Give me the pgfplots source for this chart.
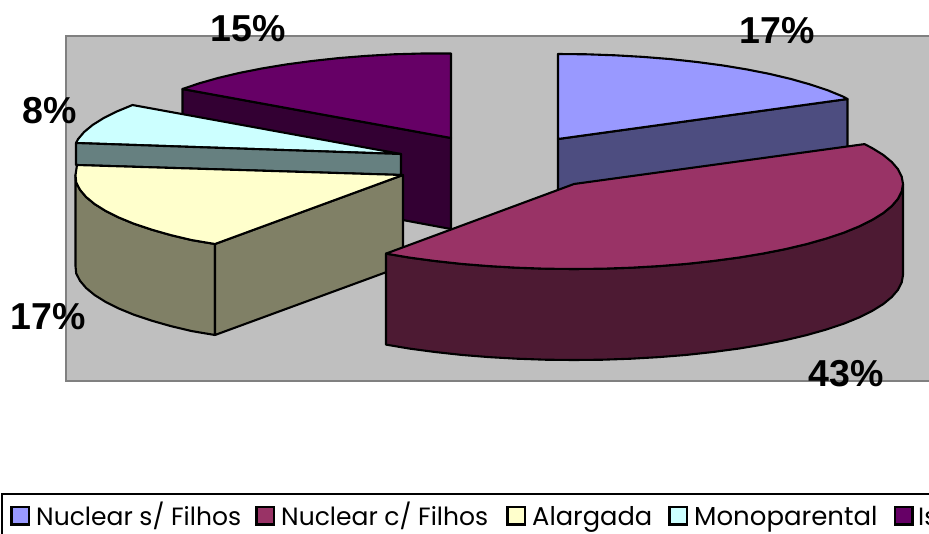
\documentclass[border=0pt]{standalone}
\usepackage{pgfplots}
\pgfplotsset{compat=1.18}
\usepackage{fontspec}
\setmainfont{Poppins}
\newfontfamily\labfont{Liberation Sans}
\definecolor{aT}{HTML}{9999FF}\definecolor{aS}{HTML}{4D4D80}
\definecolor{bT}{HTML}{993366}\definecolor{bS}{HTML}{4D1A33}
\definecolor{cT}{HTML}{FFFFCC}\definecolor{cS}{HTML}{808066}
\definecolor{dT}{HTML}{CCFFFF}\definecolor{dS}{HTML}{668080}
\definecolor{eT}{HTML}{660066}\definecolor{eS}{HTML}{330033}
\pgfplotsset{slice/.style={draw=black,line width=2.1pt,line join=round,fill=#1},
  swatch/.style={draw=black,line width=2.8pt,line join=miter,fill=#1}}
\begin{document}
\begin{tikzpicture}
\useasboundingbox (0,0) rectangle (929pt,533pt);
\clip (0,0) rectangle (929pt,533pt);
\begin{axis}[at={(0,0)},anchor=south west,scale only axis,width=929pt,height=533pt,
  xmin=0,xmax=929,ymin=0,ymax=533,y dir=reverse,hide axis]
% plot area
\addplot[fill=black!25,draw=black!50,line width=2.5pt] coordinates {(66,36)(940,36)(940,381)(66,381)} -- cycle;
% Isolada
\addplot[slice=eS] coordinates {(182.5,89)(451,138)(451,229)(182.5,179)} -- cycle;
\addplot[slice=eT] coordinates {(451,138)(451,53.5)(422.3,53.5)(393.9,54.3)(365.9,55.9)(338.5,58.1)(312,61)(286.5,64.4)(262.3,68.4)(239.5,72.9)(218.4,77.9)(199,83.4)(182.5,89)} -- cycle;
% Nuclear s/ Filhos
\addplot[slice=aS] coordinates {(558,139)(847.5,99)(847.5,190)(558,230)} -- cycle;
\addplot[slice=aT] coordinates {(558,139)(558,54)(586.7,54.3)(615.1,55.3)(643.1,56.9)(670.5,59.1)(697,62)(722.5,65.4)(746.7,69.4)(769.5,73.9)(790.6,78.9)(810,84.4)(827.5,90.2)(842.9,96.5)(847.5,99)} -- cycle;
% Monoparental
\addplot[slice=dT] coordinates {(401,154)(132.5,105)(116.8,111.5)(103.6,118.1)(92.7,124.9)(84.1,132)(78,139.2)(76,143)} -- cycle;
\addplot[slice=dS] coordinates {(76,143)(401,154)(401,175)(76,165)} -- cycle;
% Alargada
\addplot[slice=cS] coordinates {(75.5,175)(76.2,182.4)(80,189.8)(86.1,197)(94.7,204.1)(105.6,210.9)(118.8,217.5)(134.1,223.8)(151.5,229.6)(170.8,235.1)(191.8,240.1)(215,244)(215,335)(191.8,331.1)(170.8,326.1)(151.5,320.6)(134.1,314.8)(118.8,308.5)(105.6,301.9)(94.7,295.1)(86.1,288)(80,280.8)(76.2,273.4)(75.5,266)} -- cycle;
\addplot[slice=cS] coordinates {(215,244)(403,175)(403,266)(215,335)} -- cycle;
\addplot[slice=cT] coordinates {(403,175)(77,165)(75.5,175)(76.2,182.4)(80,189.8)(86.1,197)(94.7,204.1)(105.6,210.9)(118.8,217.5)(134.1,223.8)(151.5,229.6)(170.8,235.1)(191.8,240.1)(215,244)} -- cycle;
% Nuclear c/ Filhos
\addplot[slice=bS] coordinates {(903,184)(901.7,191.4)(898,198.8)(891.8,206)(883.2,213.1)(872.2,219.9)(858.9,226.5)(843.5,232.8)(826,238.6)(806.6,244.1)(785.5,249.1)(762.7,253.6)(738.5,257.6)(713,261)(686.5,263.9)(659.1,266.1)(631.1,267.7)(602.7,268.7)(574,269)(545.3,268.7)(516.9,267.7)(488.9,266.1)(461.5,263.9)(435,261)(409.5,257.6)(386,253.6)(386,344.6)(409.5,348.6)(435,352)(461.5,354.9)(488.9,357.1)(516.9,358.7)(545.3,359.7)(574,360)(602.7,359.7)(631.1,358.7)(659.1,357.1)(686.5,354.9)(713,352)(738.5,348.6)(762.7,344.6)(785.5,340.1)(806.6,335.1)(826,329.6)(843.5,323.8)(858.9,317.5)(872.2,310.9)(883.2,304.1)(891.8,297)(898,289.8)(901.7,282.4)(903,275)} -- cycle;
\addplot[slice=bT] coordinates {(574,184)(864.5,144.1)(872.2,148.1)(883.2,154.9)(891.8,162)(898,169.2)(901.7,176.6)(903,184)(901.7,191.4)(898,198.8)(891.8,206)(883.2,213.1)(872.2,219.9)(858.9,226.5)(843.5,232.8)(826,238.6)(806.6,244.1)(785.5,249.1)(762.7,253.6)(738.5,257.6)(713,261)(686.5,263.9)(659.1,266.1)(631.1,267.7)(602.7,268.7)(574,269)(545.3,268.7)(516.9,267.7)(488.9,266.1)(461.5,263.9)(435,261)(409.5,257.6)(386,253.6)} -- cycle;
% data labels
\node[font=\labfont\bfseries\fontsize{37.5}{37.5}\selectfont,inner sep=0pt] at (axis cs:248,29) {15\%};
\node[font=\labfont\bfseries\fontsize{37.5}{37.5}\selectfont,inner sep=0pt] at (axis cs:777,31) {17\%};
\node[font=\labfont\bfseries\fontsize{37.5}{37.5}\selectfont,inner sep=0pt] at (axis cs:49.5,111) {8\%};
\node[font=\labfont\bfseries\fontsize{37.5}{37.5}\selectfont,inner sep=0pt] at (axis cs:48,317) {17\%};
\node[font=\labfont\bfseries\fontsize{37.5}{37.5}\selectfont,inner sep=0pt] at (axis cs:846,374) {43\%};
% legend
\addplot[fill=white,draw=black,line width=2pt] coordinates {(2,494)(940,494)(940,545)(2,545)} -- cycle;
\addplot[swatch=aT] coordinates {(11.5,507)(29,507)(29,524.5)(11.5,524.5)} -- cycle;
\addplot[swatch=bT] coordinates {(256.5,507)(274,507)(274,524.5)(256.5,524.5)} -- cycle;
\addplot[swatch=cT] coordinates {(507.5,507)(525,507)(525,524.5)(507.5,524.5)} -- cycle;
\addplot[swatch=dT] coordinates {(669.5,507)(687,507)(687,524.5)(669.5,524.5)} -- cycle;
\addplot[swatch=eT] coordinates {(895,507)(912.5,507)(912.5,524.5)(895,524.5)} -- cycle;
\node[font=\fontsize{25}{25}\selectfont,anchor=base west,inner sep=0pt] at (axis cs:36,525) {Nuclear s/ Filhos};
\node[font=\fontsize{25}{25}\selectfont,anchor=base west,inner sep=0pt] at (axis cs:281,525) {Nuclear c/ Filhos};
\node[font=\fontsize{25.7}{25.7}\selectfont,anchor=base west,inner sep=0pt] at (axis cs:532,525) {Alargada};
\node[font=\fontsize{26}{26}\selectfont,anchor=base west,inner sep=0pt] at (axis cs:694,525) {Monoparental};
\node[font=\fontsize{25}{25}\selectfont,anchor=base west,inner sep=0pt] at (axis cs:918,525) {Isolada};
\end{axis}
\end{tikzpicture}
\end{document}
